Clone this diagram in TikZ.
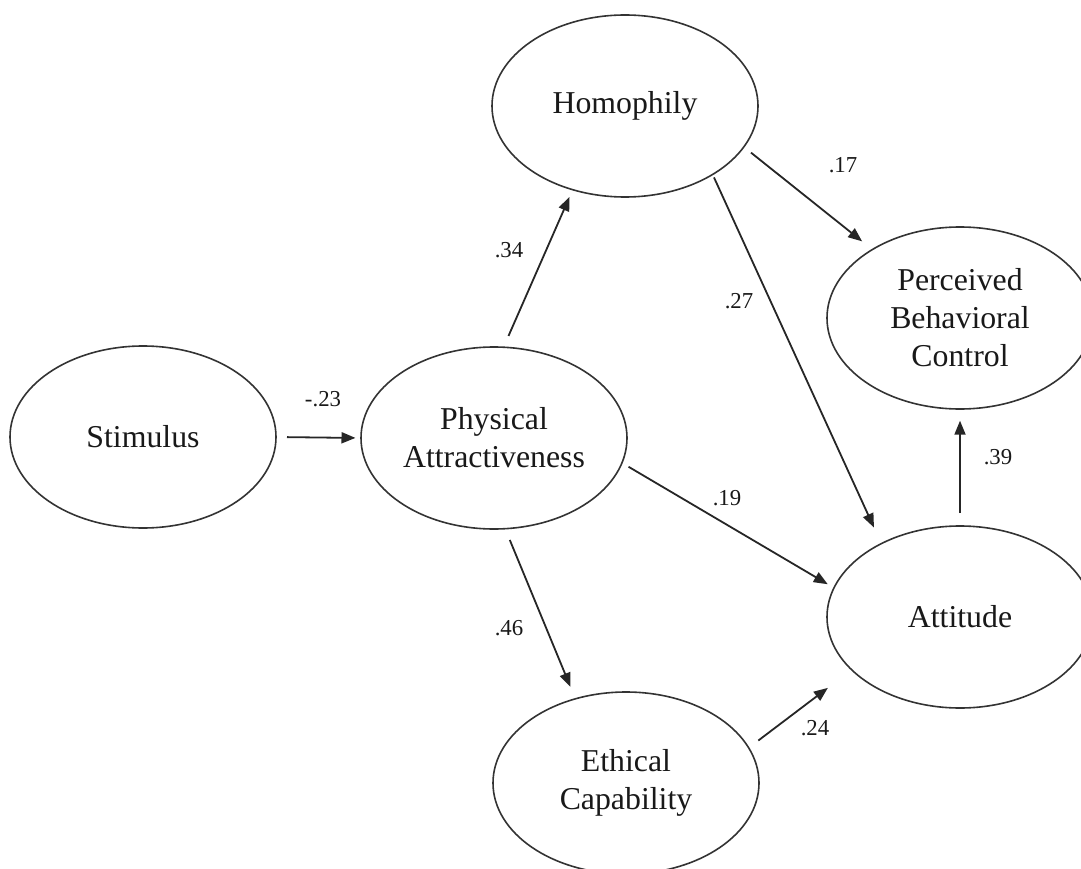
\documentclass[tikz,border=0pt]{standalone}
\usepackage{fontspec}
\setmainfont{Liberation Serif}
\usetikzlibrary{shapes.geometric,arrows.meta}

\tikzset{
  construct/.style={ellipse, draw=black!80, line width=1.6pt, fill=white,
    minimum width=266pt, minimum height=182pt, inner sep=0pt, outer sep=0pt,
    align=center, text=black!90, font=\fontsize{31.8}{38}\selectfont},
  path/.style={draw=black!85, line width=1.8pt,
    -{Triangle[length=14pt,width=11pt]}},
  coef/.style={text=black!90, inner sep=0pt, font=\fontsize{22.8}{26}\selectfont}
}

\begin{document}
\begin{tikzpicture}[x=1pt,y=-1pt]
  \useasboundingbox (0,0) rectangle (1081,869);
  \clip (0,0) rectangle (1081,869);

  % latent constructs
  \node[construct] (stim) at (143,437) {Stimulus};
  \node[construct] (pa)   at (494,438) {Physical\\Attractiveness};
  \node[construct] (hom)  at (625,106) {Homophily};
  \node[construct] (pbc)  at (960,318) {Perceived\\Behavioral\\Control};
  \node[construct] (att)  at (960,617) {Attitude};
  \node[construct] (eth)  at (626,783) {Ethical\\Capability};

  % structural paths
  \draw[path, shorten <=11pt,   shorten >=5.5pt]  (stim.0)     -- (pa.180);
  \draw[path, shorten <=12.3pt, shorten >=7.9pt]  (pa.84)      -- (hom.238.3);
  \draw[path, shorten <=9.2pt,  shorten >=13.1pt] (hom.-19.7)  -- (pbc.142.6);
  \draw[path, shorten <=3.3pt,  shorten >=17.7pt] (hom.-38.5)  -- (att.137.5);
  \draw[path, shorten <=7.7pt,  shorten >=7.2pt]  (pa.-11.1)   -- (att.167.8);
  \draw[path, shorten <=12.2pt, shorten >=13pt]   (pa.-83.2)   -- (eth.121.3);
  \draw[path, shorten <=12.1pt, shorten >=29.9pt] (eth.16.3)   -- (att.206.2);
  \draw[path, shorten <=13pt,   shorten >=11.7pt] (att.90)     -- (pbc.270);

  % path coefficients
  \node[coef] (c1) at (323,399) {-.23};
  \node[coef] (c2) at (509,250) {.34};
  \node[coef] (c3) at (843,165) {.17};
  \node[coef] (c4) at (739,301) {.27};
  \node[coef] (c5) at (727,498) {.19};
  \node[coef] (c6) at (509,628) {.46};
  \node[coef] (c7) at (815,728) {.24};
  \node[coef] (c8) at (998,457) {.39};
\end{tikzpicture}
\end{document}
